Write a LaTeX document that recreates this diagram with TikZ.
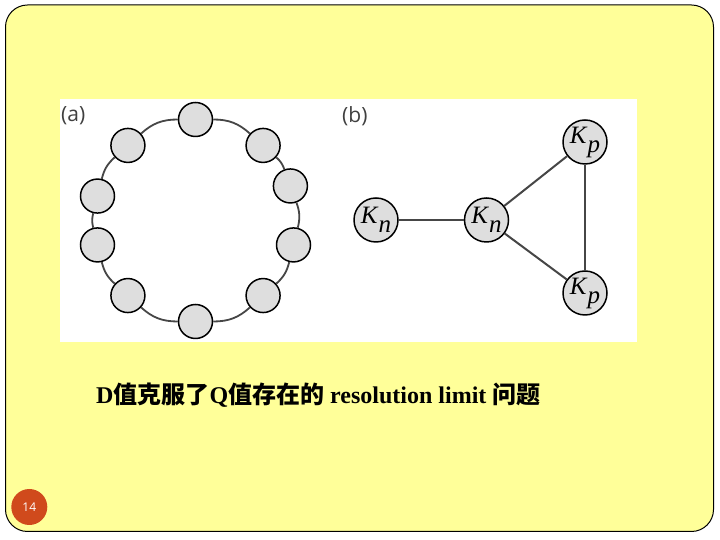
\documentclass[tikz,border=0pt]{standalone}
\usepackage{fontspec}
\setmainfont{Liberation Serif}
\newfontfamily\cjk{Noto Sans CJK SC}
\newfontfamily\labelfont{Open Sans}
\usepackage{tikz}
\usetikzlibrary{positioning,calc}
\definecolor{slideyellow}{RGB}{255,255,153}
\definecolor{numred}{RGB}{208,74,28}
\definecolor{edgegray}{RGB}{70,70,70}
\definecolor{nodegray}{RGB}{222,222,222}
\newcommand{\clique}[2]{#1\kern1pt\raisebox{-9pt}{#2}}
\tikzset{
  ringnode/.style={draw, circle, line width=1.5pt, fill=nodegray, minimum size=34pt, inner sep=0pt},
  cliquenode/.style={draw, circle, line width=1.5pt, fill=nodegray, minimum size=44pt, inner sep=0pt, font=\itshape\fontsize{25}{25}\selectfont},
  ringline/.style={draw=edgegray, line width=1.8pt},
  linkline/.style={draw=edgegray, line width=2pt},
  panellabel/.style={anchor=west, inner sep=0pt, text=black!75, font=\labelfont\fontsize{21}{21}\selectfont},
  captiontext/.style={anchor=west, inner sep=0pt, font=\bfseries\fontsize{24}{24}\selectfont},
  pagenum/.style={circle, fill=numred, minimum size=36pt, inner sep=0pt, text=white, font=\labelfont\fontsize{12}{12}\selectfont}
}

\begin{document}
\begin{tikzpicture}[x=1pt, y=1pt]
  \fill[white] (0,0) rectangle (720,540);
  \useasboundingbox (0,0) rectangle (720,540);
  \draw[rounded corners=22pt, fill=slideyellow, line width=1pt] (5.5,8.5) rectangle (713.5,535);
  \fill[white] (60,198) rectangle (637,441);

  \node[panellabel] (la) at (61,424) {(a)};
  \node[panellabel] (lb) at (342,424) {(b)};

  \coordinate (ctr) at (195.5,319.5);
  \foreach \a/\n in {-14/1, 20/2, 48/3, 90/4, 132/5, 166/6, 194/7, 228/8, 270/9, 312/10}
    \node[ringnode] (r\n) at ($(ctr)+(\a:101)$) {};
  \foreach \i/\j/\b in {1/2/17, 2/3/14, 3/4/21, 4/5/21, 5/6/17, 6/7/14, 7/8/17, 8/9/21, 9/10/21, 10/1/17}
    \draw[ringline] (r\i) to[bend right=\b] (r\j);

  \node[cliquenode] (kn1) at (376,320) {\clique{K}{n}};
  \node[cliquenode] (kn2) at (486.5,320) {\clique{K}{n}};
  \node[cliquenode] (kp1) at (585,398) {\clique{K}{p}};
  \node[cliquenode] (kp2) at (585,247) {\clique{K}{p}};
  \draw[linkline] (kn1) -- (kn2);
  \draw[linkline] (kn2) -- (kp1);
  \draw[linkline] (kn2) -- (kp2);
  \draw[linkline] (kp1) -- (kp2);

  \node[captiontext] (cap) at (96,145) {D{\cjk 值克服了}Q{\cjk 值存在的} resolution limit {\cjk 问题}};

  \node[pagenum] (pg) at (29.3,33) {14};
\end{tikzpicture}
\end{document}
